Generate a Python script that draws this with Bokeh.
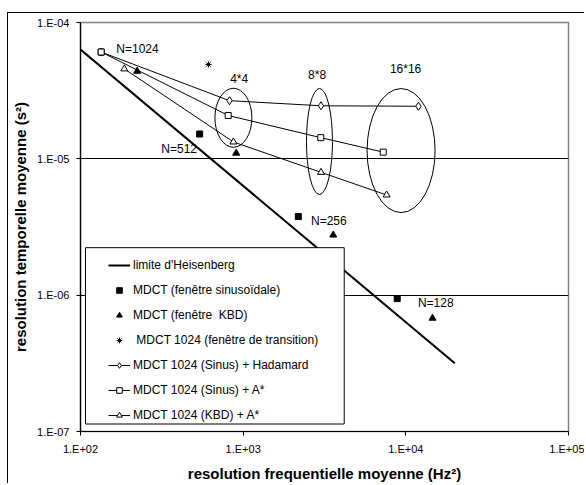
from bokeh.plotting import figure
from bokeh.models import (Range1d, FixedTicker, Legend, LegendItem, BoxAnnotation,
                          CustomJSTickFormatter)
from bokeh.core.properties import value
from bokeh.embed import file_html
from bokeh.resources import INLINE

FONT = "Liberation Sans"

# ---------------- data ----------------
heis_x = [100, 20000]
heis_y = [6.33e-5, 3.17e-7]

sin_x = [134, 540, 2183, 8850]
sin_y = [6.07e-5, 1.52e-5, 3.77e-6, 9.44e-7]

kbd_x = [223, 906, 3580, 14590]
kbd_y = [4.39e-5, 1.10e-5, 2.76e-6, 6.78e-7]

trans_x = [612]
trans_y = [4.92e-5]

had_x = [134, 824, 3010, 11960]
had_y = [6.07e-5, 2.67e-5, 2.45e-5, 2.43e-5]

sina_x = [134, 809, 3000, 7260]
sina_y = [6.07e-5, 2.08e-5, 1.43e-5, 1.12e-5]

kbda_x = [186, 871, 3010, 7620]
kbda_y = [4.57e-5, 1.33e-5, 7.96e-6, 5.43e-6]

x_ticks = [1e2, 1e3, 1e4, 1e5]
x_tick_labels = ["1.E+02", "1.E+03", "1.E+04", "1.E+05"]
y_ticks = [1e-7, 1e-6, 1e-5, 1e-4]
y_tick_labels = ["1.E-07", "1.E-06", "1.E-05", "1.E-04"]

block_labels = ["4*4", "8*8", "16*16"]
block_label_x = [832, 2506, 7980]
block_label_y = [3.86e-5, 4.12e-5, 4.55e-5]
ellipse_x = [871, 2945, 9350]
ellipse_y = [2.0e-5, 1.34e-5, 1.15e-5]

n_labels = ["N=1024", "N=512", "N=256", "N=128"]
n_label_x = [166, 314, 2612, 11860]
n_label_y = [6.42e-5, 1.18e-5, 3.50e-6, 8.69e-7]

legend_labels = ["limite d'Heisenberg", "MDCT (fenêtre sinusoïdale)", "MDCT (fenêtre  KBD)",
                 " MDCT 1024 (fenêtre de transition)", "MDCT 1024 (Sinus) + Hadamard",
                 "MDCT 1024 (Sinus) + A*", "MDCT 1024 (KBD) + A*"]

# ---------------- figure ----------------
p = figure(width=577, height=471, x_axis_type="log", y_axis_type="log",
           x_range=Range1d(1e2, 1e5), y_range=Range1d(1e-7, 1e-4),
           output_backend="svg", toolbar_location=None,
           min_border_left=72, min_border_right=17, min_border_top=9, min_border_bottom=48,
           background_fill_color="white", border_fill_color="white")
# outer chart border (left and top edges visible in the reference)
p.styles = {"border-left": "1.5px solid black", "border-top": "1.5px solid black",
            "margin-left": "7px", "margin-top": "12px"}

p.outline_line_color = "#808080"
p.outline_line_width = 1.5
p.xgrid.grid_line_color = None
p.ygrid.grid_line_color = "black"
p.ygrid.grid_line_width = 1

fmt_code = """
let best = 0, d = Infinity;
for (let i = 0; i < tvals.length; i++) {
  const e = Math.abs(Math.log10(tick) - Math.log10(tvals[i]));
  if (e < d) { d = e; best = i; }
}
return tlabels[best];
"""
p.xaxis.ticker = FixedTicker(ticks=x_ticks, minor_ticks=[])
p.yaxis.ticker = FixedTicker(ticks=y_ticks, minor_ticks=[])
p.xaxis.formatter = CustomJSTickFormatter(args=dict(tvals=x_ticks, tlabels=x_tick_labels), code=fmt_code)
p.yaxis.formatter = CustomJSTickFormatter(args=dict(tvals=y_ticks, tlabels=y_tick_labels), code=fmt_code)

for ax in (p.xaxis[0], p.yaxis[0]):
    ax.axis_line_color = "black"
    ax.axis_line_width = 1.2
    ax.major_tick_line_color = "black"
    ax.minor_tick_line_color = None
    ax.major_tick_out = 4
    ax.major_tick_in = 0
    ax.major_label_text_font = FONT
    ax.major_label_text_font_size = "11px"
    ax.major_label_text_color = "black"
    ax.axis_label_text_font = FONT
    ax.axis_label_text_font_style = "bold"
    ax.axis_label_text_font_size = "15px"
    ax.axis_label_text_color = "black"

p.xaxis.axis_label = "resolution frequentielle moyenne (Hz²)"
p.yaxis.axis_label = "resolution temporelle moyenne (s²)"
p.xaxis.major_label_standoff = 7
p.yaxis.major_label_standoff = 7
p.xaxis.axis_label_standoff = 7
p.yaxis.axis_label_standoff = 5

# ---------------- glyphs ----------------
r_heis = p.line(heis_x, heis_y, line_color="black", line_width=2)
r_sin = p.scatter(sin_x, sin_y, marker="square", size=6, fill_color="black", line_color="black")
r_kbd = p.scatter(kbd_x, kbd_y, marker="triangle", size=7, fill_color="black", line_color="black")
r_trans = p.scatter(trans_x, trans_y, marker="asterisk", size=6, line_color="black", line_width=1)

r_had_l = p.line(had_x, had_y, line_color="black", line_width=1)
r_had_m = p.scatter(had_x, had_y, marker="diamond", size=8, fill_color="white", line_color="black")
r_sina_l = p.line(sina_x, sina_y, line_color="black", line_width=1)
r_sina_m = p.scatter(sina_x, sina_y, marker="square", size=6, fill_color="white", line_color="black")
r_kbda_l = p.line(kbda_x, kbda_y, line_color="black", line_width=1)
r_kbda_m = p.scatter(kbda_x, kbda_y, marker="triangle", size=7, fill_color="white", line_color="black")

p.ellipse(x=ellipse_x, y=ellipse_y, width=[37, 26, 68], height=[59, 106, 124],
          width_units="screen", height_units="screen",
          fill_color=None, line_color="black", line_width=1)

p.text(x=block_label_x, y=block_label_y, text=block_labels, text_font=value(FONT),
       text_font_size="12px", text_baseline="middle", text_align="left", text_color="black")
p.text(x=n_label_x, y=n_label_y, text=n_labels, text_font=value(FONT),
       text_font_size="12px", text_baseline="middle", text_align="left", text_color="black")

# legend box (white, covers the lines behind it)
legend_box = BoxAnnotation(left=107.3, right=4180, top=2.23e-6, bottom=1.135e-7,
                           fill_color="white", fill_alpha=1.0, line_color="black",
                           line_width=1, line_alpha=1.0)
p.add_layout(legend_box)

legend = Legend(items=[
    LegendItem(label=legend_labels[0], renderers=[r_heis]),
    LegendItem(label=legend_labels[1], renderers=[r_sin]),
    LegendItem(label=legend_labels[2], renderers=[r_kbd]),
    LegendItem(label=legend_labels[3], renderers=[r_trans]),
    LegendItem(label=legend_labels[4], renderers=[r_had_l, r_had_m]),
    LegendItem(label=legend_labels[5], renderers=[r_sina_l, r_sina_m]),
    LegendItem(label=legend_labels[6], renderers=[r_kbda_l, r_kbda_m]),
], location=(28, 9), glyph_width=22, glyph_height=14, label_height=14, spacing=11,
    padding=5, label_standoff=3, border_line_color=None, background_fill_alpha=0,
    label_text_font=FONT, label_text_font_size="12px", label_text_color="black", margin=0)
p.add_layout(legend, "center")

open("out.html", "w").write(file_html(p, INLINE))
